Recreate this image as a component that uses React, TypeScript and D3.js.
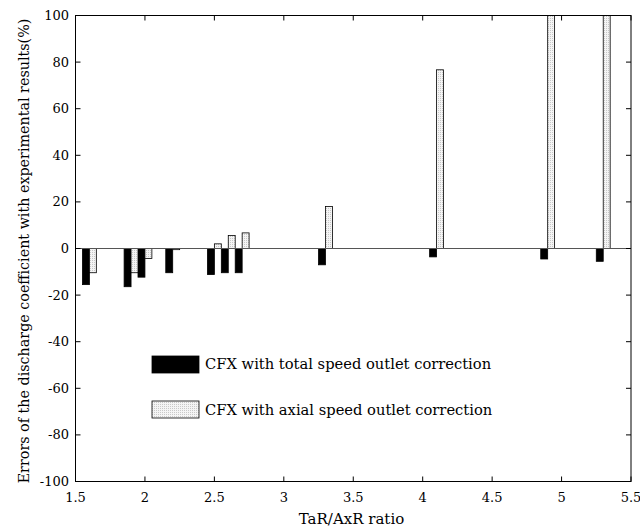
import React from "react";
import * as d3 from "d3";

const xs = [1.6, 1.9, 2.0, 2.2, 2.5, 2.6, 2.7, 3.3, 4.1, 4.9, 5.3];
const totalSpeed = [-15.5, -16.4, -12.3, -10.4, -11.2, -10.4, -10.4, -7, -3.6, -4.5, -5.5];
const axialSpeed = [-10.4, -10.4, -4.3, -0.5, 2, 5.6, 6.7, 18, 76.7, 120, 120];
const xTicks = [1.5, 2, 2.5, 3, 3.5, 4, 4.5, 5, 5.5];
const yTicks = [-100, -80, -60, -40, -20, 0, 20, 40, 60, 80, 100];
const legendLabels = ["CFX with total speed outlet correction", "CFX with axial speed outlet correction"];

const W = 640, H = 529;
const L = 75.5, R = 631, T = 15.5, B = 481.5;
const FONT = "'DejaVu Serif', serif";

export default function App() {
  const x = d3.scaleLinear().domain([1.5, 5.5]).range([L, R]);
  const y = d3.scaleLinear().domain([-100, 100]).range([B, T]);
  const bw = x(1.55) - x(1.5);
  const tl = 5;
  return (
    <svg width={W} height={H} style={{ position: "absolute", left: 0, top: 0, background: "#fff" }}>
      <defs>
        <clipPath id="plot"><rect x={L} y={T} width={R - L} height={B - T} /></clipPath>
        <pattern id="dots" width="2" height="2" patternUnits="userSpaceOnUse">
          <rect width="2" height="2" fill="#f4f4f4" />
          <rect width="1" height="1" fill="#c8c8c8" />
        </pattern>
      </defs>
      <g clipPath="url(#plot)">
        {xs.map((v, i) => (
          <rect key={"t" + i} x={x(v) - bw} y={Math.min(y(totalSpeed[i]), y(0))} width={bw}
            height={Math.abs(y(totalSpeed[i]) - y(0))} fill="#000" stroke="#000" strokeWidth={0.8} />
        ))}
        {xs.map((v, i) => (
          <rect key={"a" + i} x={x(v)} y={Math.min(y(axialSpeed[i]), y(0))} width={bw}
            height={Math.abs(y(axialSpeed[i]) - y(0))} fill="url(#dots)" stroke="#000" strokeWidth={0.8} />
        ))}
        <line x1={L} x2={R} y1={y(0)} y2={y(0)} stroke="#555" strokeWidth={1} />
      </g>
      <rect x={L} y={T} width={R - L} height={B - T} fill="none" stroke="#000" strokeWidth={1} />
      {xTicks.map((t, i) => (
        <g key={"xt" + i}>
          <line x1={x(t)} x2={x(t)} y1={B} y2={B - tl} stroke="#000" />
          <line x1={x(t)} x2={x(t)} y1={T} y2={T + tl} stroke="#000" />
          <text x={x(t)} y={502} textAnchor="middle" fontFamily={FONT} fontSize={13}>{String(t)}</text>
        </g>
      ))}
      {yTicks.map((t, i) => (
        <g key={"yt" + i}>
          <line x1={L} x2={L + tl} y1={y(t)} y2={y(t)} stroke="#000" />
          <line x1={R} x2={R - tl} y1={y(t)} y2={y(t)} stroke="#000" />
          <text x={69} y={y(t) + 4.5} textAnchor="end" fontFamily={FONT} fontSize={13}>{String(t)}</text>
        </g>
      ))}
      <text x={351.5} y={524} textAnchor="middle" fontFamily={FONT} fontSize={15}>TaR/AxR ratio</text>
      <text transform={`translate(29,251) rotate(-90)`} textAnchor="middle" fontFamily={FONT} fontSize={14.3}>
        Errors of the discharge coefficient with experimental results(%)
      </text>
      <rect x={152} y={356} width={47} height={17} fill="#000" stroke="#000" strokeWidth={0.8} />
      <text x={205} y={369} fontFamily={FONT} fontSize={14.7}>{legendLabels[0]}</text>
      <rect x={152} y={401} width={47} height={17} fill="url(#dots)" stroke="#000" strokeWidth={0.8} />
      <text x={205} y={415} fontFamily={FONT} fontSize={14.7}>{legendLabels[1]}</text>
    </svg>
  );
}
